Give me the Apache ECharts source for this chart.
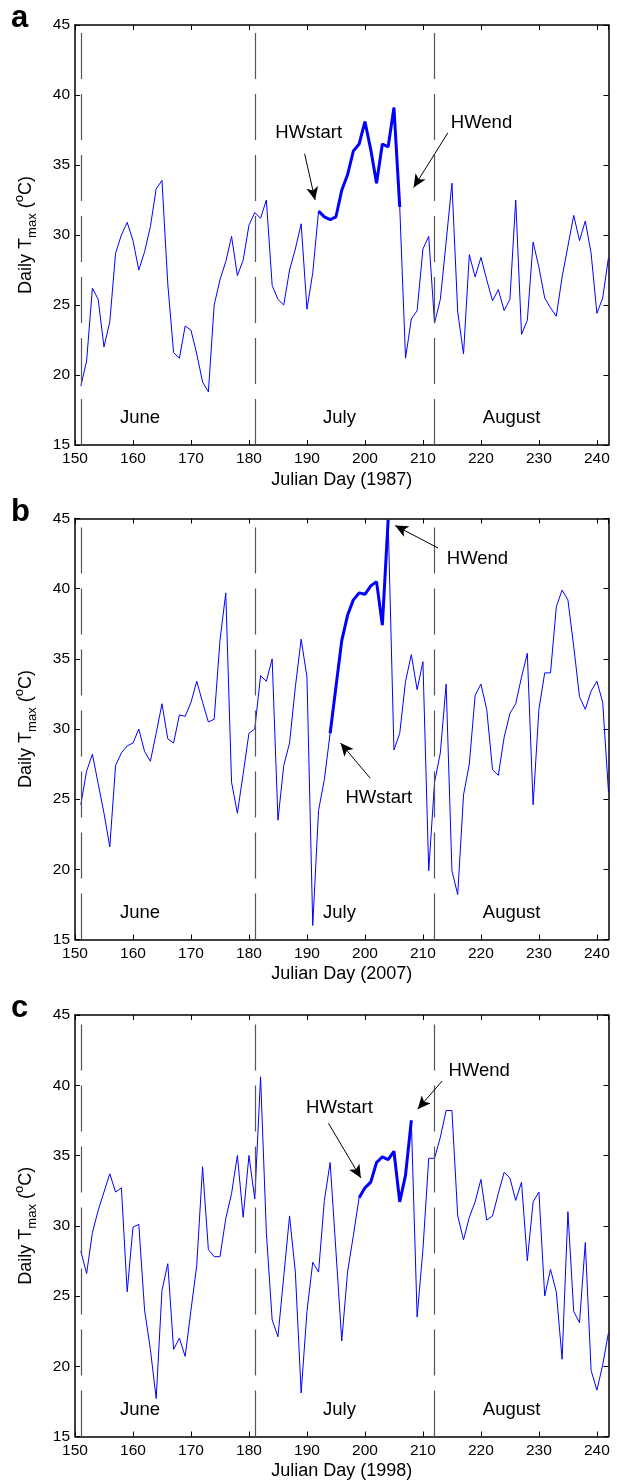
<!DOCTYPE html>
<html>
<head>
	<meta charset="UTF-8">
	<title>Daily Tmax and heat waves</title>
	<script src="https://cdn.jsdelivr.net/npm/echarts@6/dist/echarts.min.js"></script>
	<style type="text/css">
		html, body { margin:0px; padding:0px; background-color:#FFFFFF; }
		#container { width:617px; height:1484px; }
	</style>
</head>
<body>
<div id="container"></div>

<script type="text/javascript">

// days 151 (1 June) .. 242 (31 August)
var firstDay = 151;
var lastDay = 242;

var tmax1987 = [19.2, 21.0, 26.2, 25.4, 22.0, 23.8, 28.7, 30.0, 30.9, 29.6,
                27.5, 28.8, 30.6, 33.3, 33.9, 26.5, 21.6, 21.2, 23.5, 23.2,
                21.5, 19.5, 18.8, 25.0, 26.8, 28.1, 29.9, 27.1, 28.2, 30.7,
                31.6, 31.2, 32.5, 26.4, 25.4, 25.0, 27.5, 29.0, 30.8, 24.7,
                27.3, 31.7, 31.3, 31.1, 31.3, 33.2, 34.3, 36.0, 36.5, 38.1,
                36.1, 33.7, 36.5, 36.3, 39.1, 32.0, 21.2, 24.0, 24.6, 29.0,
                29.9, 23.7, 25.4, 29.5, 33.7, 24.5, 21.5, 28.6, 27.0, 28.4,
                26.8, 25.3, 26.1, 24.6, 25.4, 32.5, 22.9, 23.9, 29.5, 27.7,
                25.5, 24.8, 24.2, 27.0, 29.2, 31.4, 29.6, 31.0, 28.7, 24.4,
                25.5, 28.4];

var tmax2007 = [24.6, 27.0, 28.2, 26.1, 24.0, 21.6, 27.4, 28.3, 28.8, 29.0,
                30.0, 28.4, 27.7, 29.7, 31.8, 29.3, 29.0, 31.0, 30.9, 31.9,
                33.4, 31.9, 30.5, 30.7, 36.3, 39.7, 26.2, 24.0, 26.8, 29.7,
                30.0, 33.8, 33.4, 35.0, 23.5, 27.4, 29.0, 33.0, 36.4, 33.7,
                16.0, 24.2, 26.4, 29.7, 33.0, 36.3, 38.1, 39.2, 39.7, 39.6,
                40.2, 40.5, 37.4, 44.9, 28.5, 29.7, 33.4, 35.3, 32.8, 34.8,
                19.9, 26.2, 28.3, 33.2, 19.9, 18.2, 25.3, 27.5, 32.4, 33.2,
                31.4, 27.1, 26.7, 29.4, 31.1, 31.8, 33.7, 35.4, 24.6, 31.4,
                34.0, 34.0, 38.7, 39.9, 39.2, 35.9, 32.3, 31.4, 32.7, 33.4,
                31.9, 25.5];

var tmax1998 = [28.2, 26.6, 29.5, 31.1, 32.4, 33.7, 32.4, 32.7, 25.3, 29.9,
                30.1, 24.0, 21.2, 17.7, 25.4, 27.3, 21.2, 22.0, 20.7, 24.0,
                27.2, 34.2, 28.3, 27.8, 27.8, 30.5, 32.3, 35.0, 30.6, 35.0,
                31.9, 40.6, 29.5, 23.3, 22.1, 26.4, 30.7, 26.7, 18.1, 23.9,
                27.4, 26.7, 31.8, 34.5, 28.2, 21.8, 26.7, 29.3, 32.0, 32.7,
                33.1, 34.5, 34.9, 34.7, 35.3, 31.7, 33.6, 37.5, 23.5, 28.3,
                34.8, 34.8, 36.3, 38.2, 38.2, 30.7, 29.0, 30.6, 31.7, 33.3,
                30.4, 30.7, 32.3, 33.8, 33.4, 31.8, 33.1, 27.5, 31.7, 32.4,
                25.0, 26.9, 25.3, 20.5, 31.0, 23.9, 23.1, 28.8, 19.7, 18.3,
                20.1, 22.4];

// heat wave start / end day
var hw1987 = [192, 206];
var hw2007 = [194, 204];
var hw1998 = [199, 208];

var monthStarts = [151, 181, 212];
var monthNames = ['June', 'July', 'August'];

var font = "'Liberation Sans', Arial, Helvetica, sans-serif";

var days = [];
for (var d = firstDay; d <= lastDay; d++) days.push(d);

// annotation positions in data units
var panels = [
	{ label: 'a', year: '1987', values: tmax1987, hw: hw1987, top: 25, height: 420,
	  texts: [['HWstart', 190.3, 37.3], ['HWend', 220.1, 38.0]],
	  arrows: [[189.6, 35.8, 191.4, 32.5], [214.3, 37.3, 208.4, 33.4]] },
	{ label: 'b', year: '2007', values: tmax2007, hw: hw2007, top: 518.5, height: 421,
	  texts: [['HWend', 219.4, 42.1], ['HWstart', 202.4, 25.1]],
	  arrows: [[212.6, 42.9, 205.2, 44.5], [200.9, 26.5, 195.8, 29.0]] },
	{ label: 'c', year: '1998', values: tmax1998, hw: hw1998, top: 1015, height: 421.5,
	  texts: [['HWstart', 195.6, 38.4], ['HWend', 219.7, 41.0]],
	  arrows: [[193.7, 37.3, 199.3, 33.4], [213.3, 40.3, 209.1, 38.3]] }
];
var monthLabelPos = [[161.2, 16.9], [195.6, 16.9], [225.3, 16.9]];

var grids = [], xAxes = [], yAxes = [], series = [], graphics = [];

panels.forEach(function (p, k) {
	grids.push({ left: 75, width: 533.5, top: p.top, height: p.height, containLabel: false, outerBoundsMode: 'none' });

	var axisLine = { onZero: false, lineStyle: { color: '#000', width: 1.5 } };
	var tick = { inside: true, length: 5, lineStyle: { color: '#000', width: 1 } };

	xAxes.push({
		gridIndex: k, type: 'value', position: 'bottom', min: 150, max: 242, interval: 10,
		name: 'Julian Day (' + p.year + ')', nameLocation: 'middle', nameGap: 26,
		nameTextStyle: { fontSize: 18, color: '#000', fontFamily: font },
		axisLine: axisLine, axisTick: tick, splitLine: { show: false },
		axisLabel: { fontSize: 15.5, color: '#000', fontFamily: font, margin: 6, showMaxLabel: false }
	});
	xAxes.push({
		gridIndex: k, type: 'value', position: 'top', min: 150, max: 242, interval: 10,
		axisLine: axisLine, axisTick: tick, splitLine: { show: false }, axisLabel: { show: false }
	});
	yAxes.push({
		gridIndex: k, type: 'value', position: 'left', min: 15, max: 45, interval: 5,
		name: '{n|Daily T}{s|max}{n| (}{p|o}{n|C)}', nameLocation: 'middle', nameGap: 36,
		nameTextStyle: {
			color: '#000', fontFamily: font,
			rich: {
				n: { fontSize: 18, lineHeight: 26, color: '#000', fontFamily: font },
				s: { fontSize: 13, lineHeight: 13, verticalAlign: 'bottom', color: '#000', fontFamily: font },
				p: { fontSize: 13, lineHeight: 13, verticalAlign: 'top', color: '#000', fontFamily: font }
			}
		},
		axisLine: axisLine, axisTick: tick, splitLine: { show: false },
		axisLabel: { fontSize: 15.5, color: '#000', fontFamily: font, margin: 5 }
	});
	yAxes.push({
		gridIndex: k, type: 'value', position: 'right', min: 15, max: 45, interval: 5,
		axisLine: axisLine, axisTick: tick, splitLine: { show: false }, axisLabel: { show: false }
	});

	var all = [], hw = [];
	for (var i = 0; i < days.length; i++) {
		all.push([days[i], p.values[i]]);
		if (days[i] >= p.hw[0] && days[i] <= p.hw[1]) hw.push([days[i], p.values[i]]);
	}

	series.push({
		type: 'line', xAxisIndex: 2 * k, yAxisIndex: 2 * k, data: all,
		symbol: 'none', lineStyle: { color: '#0000ff', width: 1 }, z: 3,
		markLine: {
			silent: true, symbol: ['none', 'none'], label: { show: false },
			lineStyle: { color: '#555', width: 1.2, type: [46, 15] },
			data: monthStarts.map(function (m) { return { xAxis: m }; })
		},
		markPoint: {
			silent: true, symbol: 'circle', symbolSize: 0,
			label: { show: true, position: 'inside', formatter: '{b}', fontSize: 18.5, color: '#000', fontFamily: font },
			data: monthNames.map(function (m, j) { return { name: m, coord: monthLabelPos[j] }; })
		}
	});
	series.push({
		type: 'line', xAxisIndex: 2 * k, yAxisIndex: 2 * k, data: hw,
		symbol: 'none', lineStyle: { color: '#0000ff', width: 3 }, z: 4,
		markLine: {
			silent: true, symbol: ['none', 'arrow'], symbolSize: [9, 13], label: { show: false },
			lineStyle: { color: '#000', width: 1, type: 'solid' },
			data: p.arrows.map(function (a) { return [{ coord: [a[0], a[1]] }, { coord: [a[2], a[3]] }]; })
		},
		markPoint: {
			silent: true, symbol: 'circle', symbolSize: 0,
			label: { show: true, position: 'inside', formatter: '{b}', fontSize: 18.5, color: '#000', fontFamily: font },
			data: p.texts.map(function (t) { return { name: t[0], coord: [t[1], t[2]] }; })
		}
	});

	graphics.push({
		type: 'text', left: 11, top: p.top - 22,
		style: { text: p.label, font: 'bold 31px ' + font, fill: '#000' }
	});
});

var myChart = echarts.init(document.getElementById('container'));
var option = {
	animation: false,
	textStyle: { fontFamily: font },
	grid: grids,
	xAxis: xAxes,
	yAxis: yAxes,
	series: series,
	graphic: graphics
};
myChart.setOption(option, true);

</script>
</body>
</html>
